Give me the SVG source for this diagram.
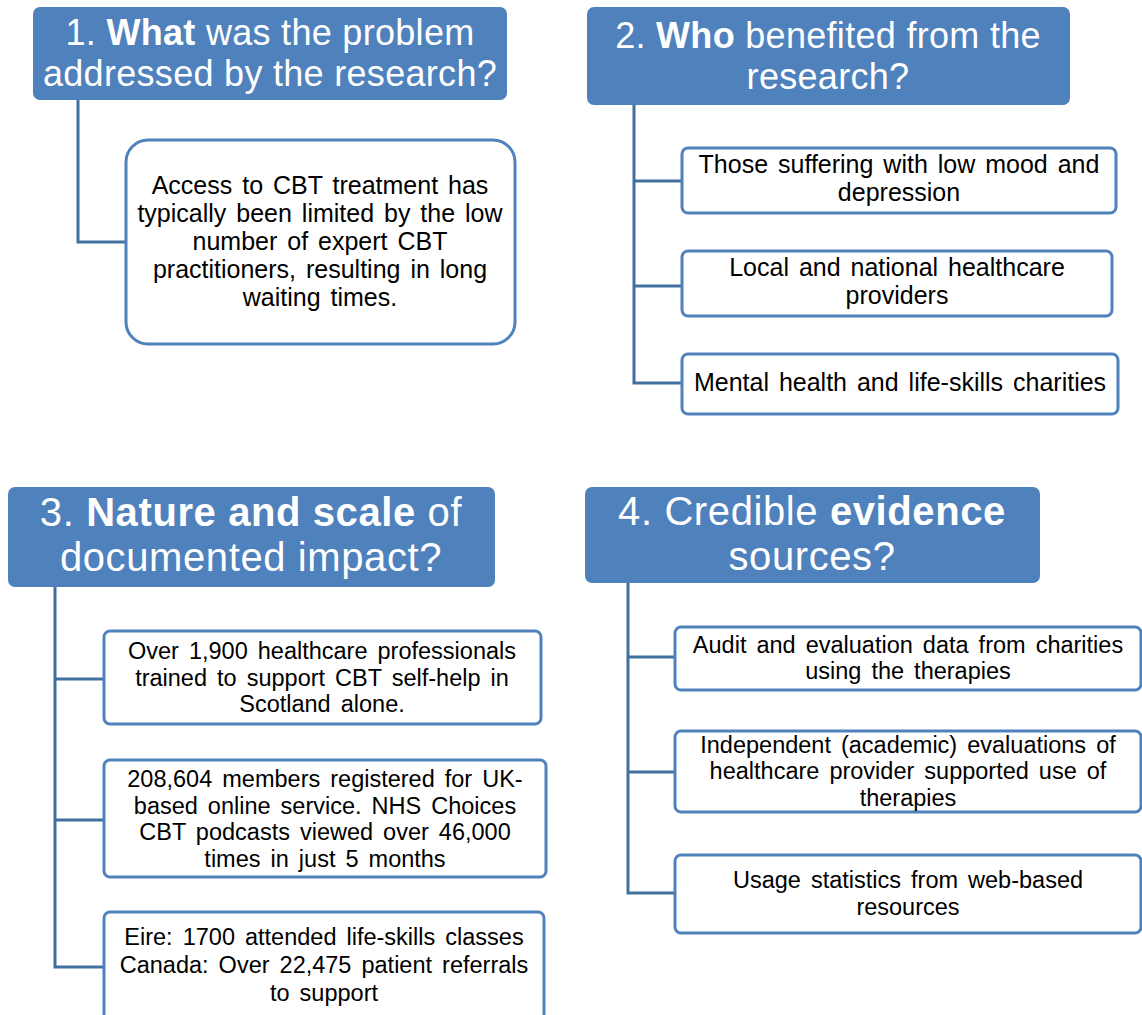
<svg xmlns="http://www.w3.org/2000/svg" width="1142" height="1015" viewBox="0 0 1142 1015">
<style>
.hdr{fill:#4F81BD;stroke:none}
.box{fill:#FFFFFF;stroke:#4F81BD;stroke-width:3}
.ht{font-family:"Liberation Sans",Arial,sans-serif;fill:#FFFFFF;text-anchor:middle}
.h12{font-size:36px;letter-spacing:0.3px}
.h34{font-size:40px;letter-spacing:0.6px}
.b{font-weight:bold}
.bt{font-family:"Liberation Sans",Arial,sans-serif;fill:#000000;text-anchor:middle}
.s1{font-size:25px;word-spacing:3px}
.s2{font-size:23.5px;word-spacing:3.5px}
.con{fill:none;stroke:#41709F;stroke-width:3}
</style>
<rect width="1142" height="1015" fill="#FFFFFF"/>
<g id="connectors">
<path class="con" d="M78,100 V242 H126"/>
<path class="con" d="M634,105 V383 H682 M634,181 H682 M634,286 H682"/>
<path class="con" d="M55,587 V967 H104 M55,679 H104 M55,820 H104"/>
<path class="con" d="M628,583 V893 H675 M628,657 H675 M628,772 H675"/>
</g>
<g id="header1">
<rect class="hdr" x="33" y="7" width="474" height="93" rx="7"/>
<text class="ht h12"><tspan x="270" y="45">1. <tspan class="b">What</tspan> was the problem</tspan><tspan x="270" y="86">addressed by the research?</tspan></text>
</g>
<g id="box1">
<rect class="box" x="126" y="140" width="389" height="204" rx="22"/>
<text class="bt s1"><tspan x="320" y="194">Access to CBT treatment has</tspan><tspan x="320" y="222">typically been limited by the low</tspan><tspan x="320" y="250">number of expert CBT</tspan><tspan x="320" y="278">practitioners, resulting in long</tspan><tspan x="320" y="306">waiting times.</tspan></text>
</g>
<g id="header2">
<rect class="hdr" x="587" y="7" width="483" height="98" rx="7"/>
<text class="ht h12"><tspan x="828" y="48">2. <tspan class="b">Who</tspan> benefited from the</tspan><tspan x="828" y="89">research?</tspan></text>
</g>
<g id="box2a">
<rect class="box" x="682" y="148" width="434" height="65" rx="6"/>
<text class="bt s1"><tspan x="899" y="173">Those suffering with low mood and</tspan><tspan x="899" y="201">depression</tspan></text>
</g>
<g id="box2b">
<rect class="box" x="682" y="251" width="430" height="65" rx="6"/>
<text class="bt s1"><tspan x="897" y="276">Local and national healthcare</tspan><tspan x="897" y="304">providers</tspan></text>
</g>
<g id="box2c">
<rect class="box" x="682" y="354" width="436" height="60" rx="6"/>
<text class="bt s1" x="900" y="391">Mental health and life-skills charities</text>
</g>
<g id="header3">
<rect class="hdr" x="8" y="487" width="487" height="100" rx="7"/>
<text class="ht h34"><tspan x="251" y="526">3. <tspan class="b">Nature and scale</tspan> of</tspan><tspan x="251" y="571">documented impact?</tspan></text>
</g>
<g id="box3a">
<rect class="box" x="104" y="631" width="437" height="93" rx="6"/>
<text class="bt s2"><tspan x="322" y="659">Over 1,900 healthcare professionals</tspan><tspan x="322" y="685.5">trained to support CBT self-help in</tspan><tspan x="322" y="712">Scotland alone.</tspan></text>
</g>
<g id="box3b">
<rect class="box" x="104" y="760" width="442" height="117" rx="6"/>
<text class="bt s2"><tspan x="325" y="787">208,604 members registered for UK-</tspan><tspan x="325" y="813.5">based online service. NHS Choices</tspan><tspan x="325" y="840">CBT podcasts viewed over 46,000</tspan><tspan x="325" y="866.5">times in just 5 months</tspan></text>
</g>
<g id="box3c">
<rect class="box" x="104" y="912" width="440" height="110" rx="6"/>
<text class="bt s2"><tspan x="324" y="945">Eire: 1700 attended life-skills classes</tspan><tspan x="324" y="973">Canada: Over 22,475 patient referrals</tspan><tspan x="324" y="1001">to support</tspan></text>
</g>
<g id="header4">
<rect class="hdr" x="585" y="487" width="455" height="96" rx="7"/>
<text class="ht h34"><tspan x="812" y="525">4. Credible <tspan class="b">evidence</tspan></tspan><tspan x="812" y="570">sources?</tspan></text>
</g>
<g id="box4a">
<rect class="box" x="675" y="627" width="466" height="63" rx="6"/>
<text class="bt s2"><tspan x="908" y="652.5">Audit and evaluation data from charities</tspan><tspan x="908" y="679">using the therapies</tspan></text>
</g>
<g id="box4b">
<rect class="box" x="675" y="731" width="466" height="81" rx="6"/>
<text class="bt s2"><tspan x="908" y="752.5">Independent (academic) evaluations of</tspan><tspan x="908" y="779">healthcare provider supported use of</tspan><tspan x="908" y="805.5">therapies</tspan></text>
</g>
<g id="box4c">
<rect class="box" x="675" y="855" width="466" height="78" rx="6"/>
<text class="bt s2"><tspan x="908" y="888">Usage statistics from web-based</tspan><tspan x="908" y="914.5">resources</tspan></text>
</g>
</svg>
